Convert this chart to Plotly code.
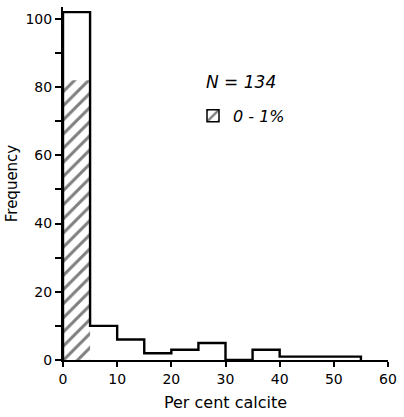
import plotly.graph_objects as go

# Data
bin_left = [0, 5, 10, 15, 20, 25, 30, 35, 40, 45, 50]
bin_width = 5
counts = [102, 10, 6, 2, 3, 5, 0, 3, 1, 1, 1]
low_calcite_count = 82          # samples with 0-1 % calcite (hatched)
n_total = 134
x_ticks = [0, 10, 20, 30, 40, 50, 60]
y_ticks = [0, 10, 20, 30, 40, 50, 60, 70, 80, 90, 100]
y_ticklabels = ["0", "", "20", "", "40", "", "60", "", "80", "", "100"]

FONT = "DejaVu Sans"
HATCH = dict(shape="/", fgcolor="black", bgcolor="white", size=10, solidity=0.3)

# step outline of the histogram
step_x = [bin_left[0]] + bin_left + [bin_left[-1] + bin_width]
step_y = [0] + counts + [0]

fig = go.Figure()

fig.add_trace(go.Bar(
    x=[bin_left[0] + bin_width / 2], y=[low_calcite_count], width=[bin_width],
    marker=dict(color="white", line=dict(width=0), pattern=HATCH),
    showlegend=False,
))

# legend entry for the hatched class
fig.add_trace(go.Bar(
    x=[None], y=[None], name="0 - 1%",
    marker=dict(color="white", line=dict(width=1.5, color="black"), pattern=HATCH),
    showlegend=True,
))

fig.add_trace(go.Scatter(
    x=step_x, y=step_y, mode="lines", line=dict(color="black", width=2.4, shape="hv"),
    showlegend=False, hoverinfo="skip",
))

fig.update_layout(
    width=404, height=417,
    margin=dict(l=63, r=12, t=7, b=57),
    plot_bgcolor="white", paper_bgcolor="white",
    font=dict(family=FONT, size=13, color="black"),
    showlegend=True,
    legend=dict(x=0.40, y=0.74, xanchor="left", yanchor="top",
                bgcolor="rgba(0,0,0,0)",
                font=dict(family=FONT, size=16, style="italic"),
                itemwidth=30),
    xaxis=dict(range=[0, 60], tickvals=x_ticks, showline=True, linecolor="black",
               linewidth=2, ticks="outside", ticklen=5, tickwidth=2, tickcolor="black",
               showgrid=False, zeroline=False,
               title=dict(text="Per cent calcite", font=dict(size=16), standoff=11),
               tickfont=dict(size=14)),
    yaxis=dict(range=[0, 103.5], tickvals=y_ticks, ticktext=y_ticklabels,
               showline=True, linecolor="black",
               linewidth=2, ticks="outside", ticklen=6, tickwidth=2, tickcolor="black",
               showgrid=False, zeroline=False,
               title=dict(text="Frequency", font=dict(size=15), standoff=4),
               tickfont=dict(size=14)),
    annotations=[dict(
        xref="x", yref="y", x=26, y=81.5, xanchor="left", yanchor="middle",
        text=f"N = {n_total}", showarrow=False,
        font=dict(family=FONT, size=17, style="italic"),
    )],
)

fig.write_html("out.html")
